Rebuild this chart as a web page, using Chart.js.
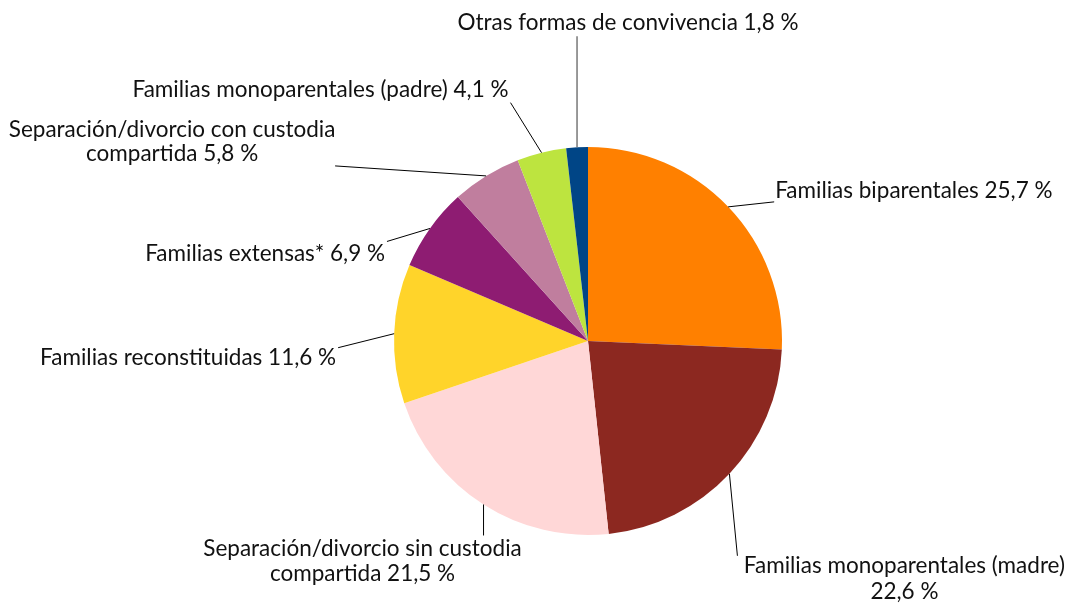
<!DOCTYPE html>
<html>
<head>
<meta charset="utf-8">
<script src="https://cdn.jsdelivr.net/npm/chart.js@4.4.1/dist/chart.umd.min.js"></script>
<style>
  html, body { margin: 0; padding: 0; background: #fff; }
  #wrap { width: 1079px; height: 603px; }
</style>
</head>
<body>
<div id="wrap"><canvas id="pie" width="1079" height="603"></canvas></div>
<script>
// slices, clockwise from 12 o'clock
var categories = [
  'Familias biparentales',
  'Familias monoparentales (madre)\n',
  'Separación/divorcio sin custodia\ncompartida',
  'Familias reconstituidas',
  'Familias extensas*',
  'Separación/divorcio con custodia\ncompartida',
  'Familias monoparentales (padre)',
  'Otras formas de convivencia'
];
var shares = [25.7, 22.6, 21.5, 11.6, 6.9, 5.8, 4.1, 1.8];
var sliceColors = ['#ff8000', '#8c2820', '#ffd7d7', '#ffd42a', '#8e1c72', '#c07e9e', '#bde43f', '#004586'];

// label placement: leader end relative to the slice edge, text relative to leader end
var leaderEnd = [[46, -5], [8, 82], [0, 31], [-56, 14], [-43, 13], [-151, -10], [-31, -50], [0, -111]];
var textOffset = [[1, -11], [167, 10], [-121, 13], [-2, 10], [-2, 12], [-163, -36], [-2, -13], [51, -14]];
var textAlign = ['left', 'center', 'center', 'right', 'right', 'center', 'right', 'center'];
var leaderColor = ['#000', '#000', '#000', '#000', '#000', '#000', '#000', '#808080'];
var rowGap = [25, 26, 25, 25, 25, 24, 25, 25];

function fmt(v) {
  return v.toFixed(1).replace('.', ',') + ' %';
}

var labelPlugin = {
  id: 'outsideLabels',
  afterDatasetsDraw: function(chart) {
    var ctx = chart.ctx;
    var arcs = chart.getDatasetMeta(0).data;
    ctx.save();
    ctx.font = '22.5px Lato';
    ctx.textBaseline = 'middle';
    arcs.forEach(function(arc, i) {
      var p = arc.getProps(['x', 'y', 'startAngle', 'endAngle', 'outerRadius'], true);
      var mid = (p.startAngle + p.endAngle) / 2;
      var ax = p.x + Math.cos(mid) * p.outerRadius;
      var ay = p.y + Math.sin(mid) * p.outerRadius;
      var ex = ax + leaderEnd[i][0];
      var ey = ay + leaderEnd[i][1];

      ctx.strokeStyle = leaderColor[i];
      ctx.lineWidth = i === 7 ? 1.6 : 1;
      ctx.beginPath();
      ctx.moveTo(ax, ay);
      ctx.lineTo(ex, ey);
      ctx.stroke();

      var cat = categories[i];
      var text = cat + (cat.slice(-1) === '\n' ? '' : ' ') + fmt(shares[i]);
      var rows = text.split('\n');
      ctx.fillStyle = '#111';
      ctx.textAlign = textAlign[i];
      rows.forEach(function(r, k) {
        ctx.fillText(r, ex + textOffset[i][0], ey + textOffset[i][1] + k * rowGap[i]);
      });
    });
    ctx.restore();
  }
};

new Chart(document.getElementById('pie'), {
  type: 'pie',
  data: {
    labels: categories,
    datasets: [{
      data: shares,
      backgroundColor: sliceColors,
      borderWidth: 0
    }]
  },
  options: {
    responsive: false,
    animation: false,
    devicePixelRatio: 1,
    layout: { padding: { left: 394, right: 297, top: 147, bottom: 68 } },
    plugins: {
      legend: { display: false },
      tooltip: { enabled: false }
    }
  },
  plugins: [labelPlugin]
});
</script>
</body>
</html>
